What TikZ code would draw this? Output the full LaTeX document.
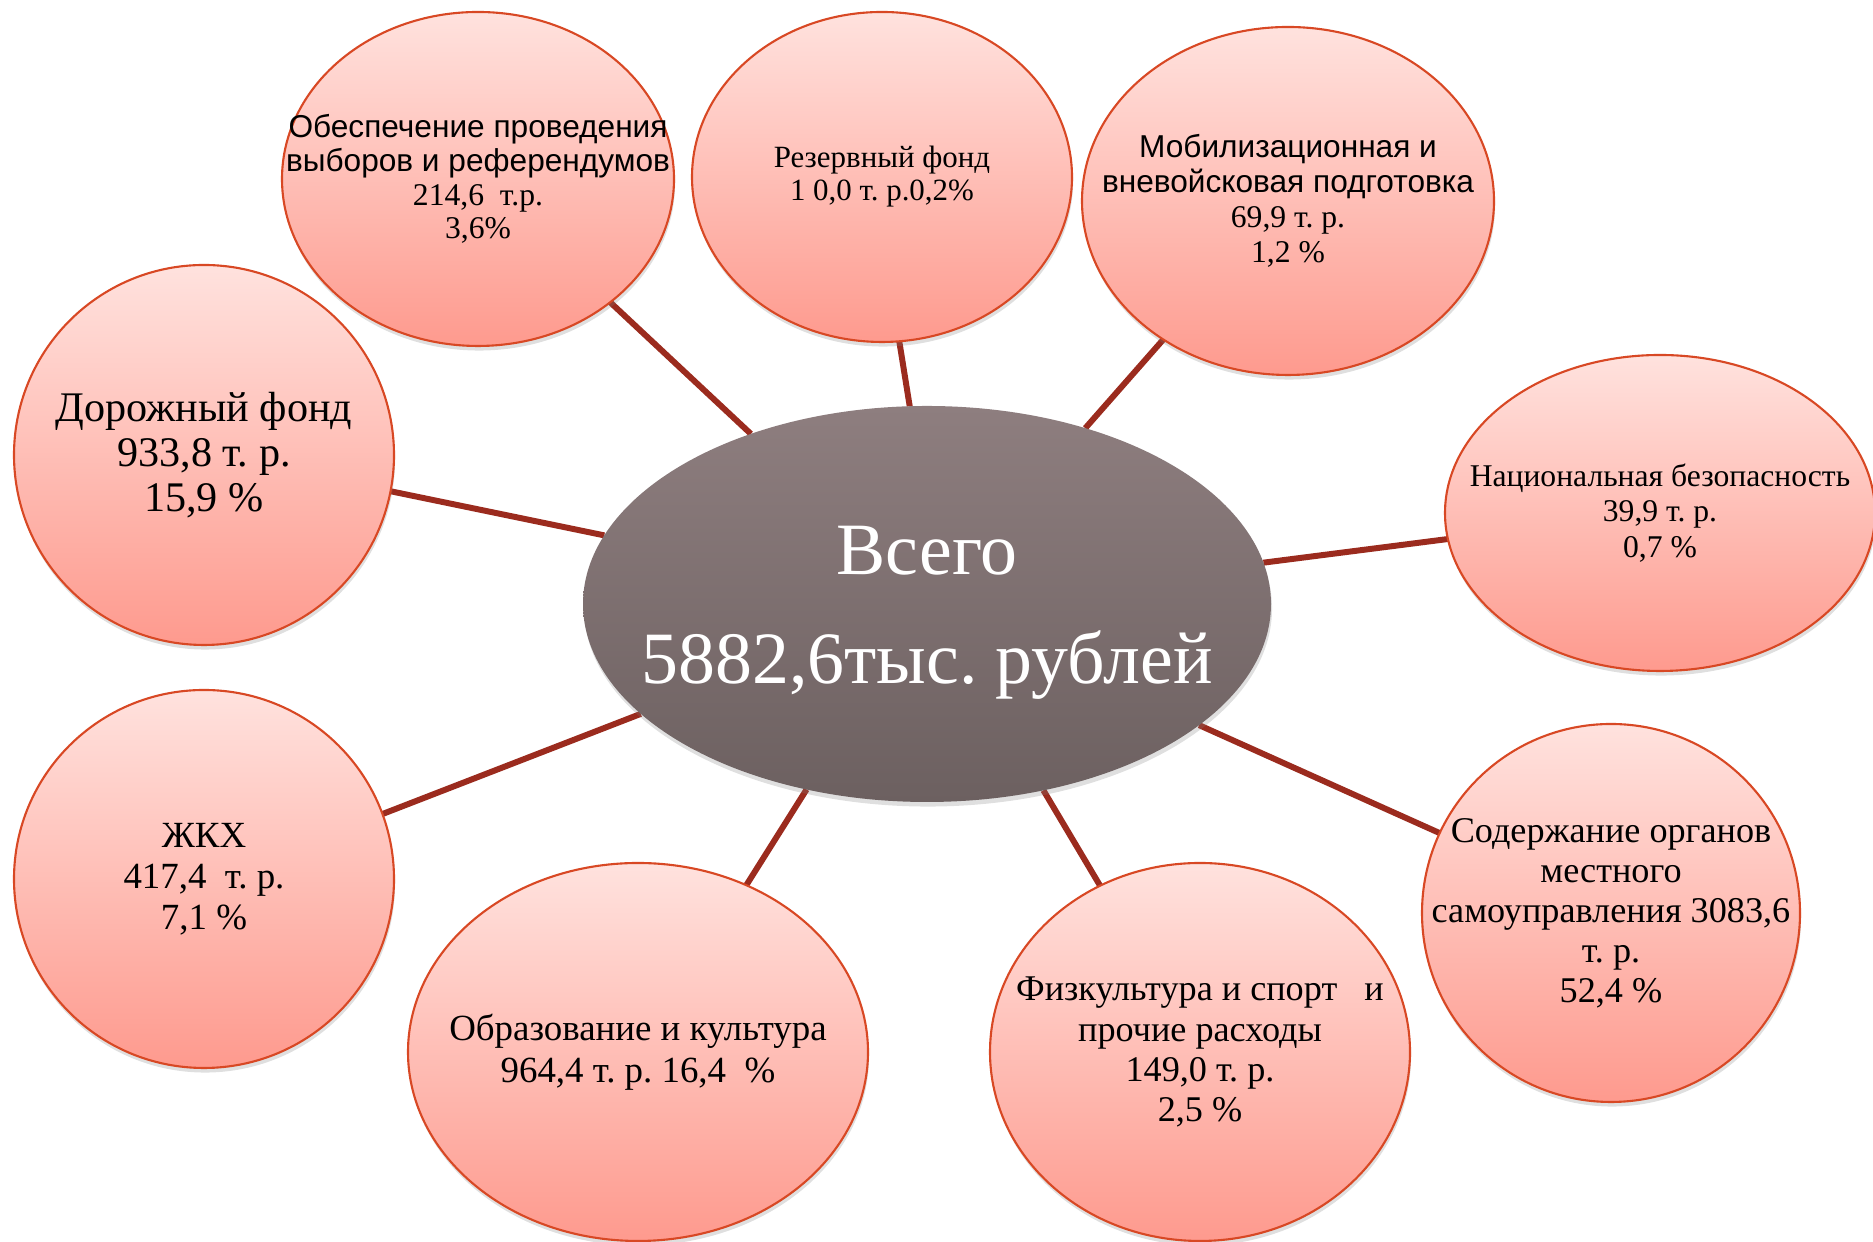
\documentclass[tikz,border=0pt]{standalone}
\usepackage{fontspec}
\setmainfont{Liberation Serif}
\newfontfamily\arialfont{Liberation Sans}
\usetikzlibrary{shapes.geometric}
\usetikzlibrary{shadows}
\usetikzlibrary{backgrounds}
\definecolor{bubtop}{RGB}{255,226,222}
\definecolor{bubbot}{RGB}{254,154,142}
\definecolor{bubline}{RGB}{216,72,36}
\definecolor{coretop}{RGB}{142,126,127}
\definecolor{corebot}{RGB}{108,96,96}
\definecolor{linkred}{RGB}{155,43,30}
\newcommand\fs[2]{\fontsize{#1}{#2}\selectfont}
\tikzstyle{bubble}=[ellipse,draw=bubline,line width=.6pt,top color=bubtop,bottom color=bubbot,
  inner sep=0pt,outer sep=0pt,drop shadow={shadow xshift=.3pt,shadow yshift=-1.3pt,opacity=.25}]
\tikzstyle{core}=[ellipse,top color=coretop,bottom color=corebot,inner sep=0pt,outer sep=0pt,
  drop shadow={shadow xshift=.3pt,shadow yshift=-1.3pt,opacity=.25}]
\tikzstyle{txt}=[align=center,inner sep=0pt]
\tikzstyle{link}=[line width=1.7pt,draw=linkred]
\frenchspacing

\begin{document}
\begin{tikzpicture}
	\useasboundingbox (0,0) rectangle (18.73,12.42);
	% centre
	\node[core,minimum width=6.88cm,minimum height=3.96cm] (total) at (9.27,6.38) {};
	\node[txt,text=white,font=\fs{21}{31}] (total-t) at ([yshift=-.09cm]total) {Всего\\5882,6тыс. рублей};
	% outer bubbles
	\node[bubble,minimum width=3.92cm,minimum height=3.34cm] (elect) at (4.78,10.63) {};
	\node[bubble,minimum width=3.80cm,minimum height=3.30cm] (reserve) at (8.82,10.65) {};
	\node[bubble,minimum width=4.12cm,minimum height=3.48cm] (mobil) at (12.88,10.41) {};
	\node[bubble,minimum width=4.30cm,minimum height=3.16cm] (secur) at (16.60,7.29) {};
	\node[bubble,minimum width=3.78cm,minimum height=3.78cm] (local) at (16.11,3.29) {};
	\node[bubble,minimum width=4.20cm,minimum height=3.78cm] (sport) at (12.00,1.90) {};
	\node[bubble,minimum width=4.60cm,minimum height=3.78cm] (educ) at (6.38,1.90) {};
	\node[bubble,minimum width=3.80cm,minimum height=3.78cm] (zhkh) at (2.04,3.63) {};
	\node[bubble,minimum width=3.80cm,minimum height=3.80cm] (road) at (2.04,7.87) {};
	\node[txt,font=\fs{9}{9.6}] (elect-t) at (elect)
	  {{\arialfont\fs{9}{10.2}Обеспечение проведения}\\{\arialfont\fs{9}{10.2}выборов и референдумов}\\214,6~ т.р.\\3,6\%};
	\node[txt,font=\fs{8.8}{9.4}] (reserve-t) at (reserve) {Резервный фонд\\1 0,0 т. р.0,2\%};
	\node[txt,font=\fs{9}{10}] (mobil-t) at (mobil)
	  {{\arialfont Мобилизационная и}\\{\arialfont вневойсковая подготовка}\\69,9 т. р.\\1,2 \%};
	\node[txt,font=\fs{9}{10}] (secur-t) at (secur) {Национальная безопасность\\39,9 т. р.\\0,7 \%};
	\node[txt,font=\fs{10.3}{11.4}] (local-t) at (local)
	  {Содержание органов\\местного\\самоуправления 3083,6\\т. р.\\52,4 \%};
	\node[txt,font=\fs{10.3}{11.4}] (sport-t) at (sport)
	  {Физкультура и спорт \ \ и\\прочие расходы\\149,0 т. р.\\2,5 \%};
	\node[txt,font=\fs{10.5}{12}] (educ-t) at (educ) {Образование и культура\\964,4 т. р. 16,4~ \%};
	\node[txt,font=\fs{10.5}{11.7}] (zhkh-t) at (zhkh) {ЖКХ\\417,4~ т. р.\\7,1 \%};
	\node[txt,font=\fs{12}{12.8}] (road-t) at (road) {Дорожный фонд\\933,8 т. р.\\15,9 \%};
	% links
	\begin{pgfonlayer}{background}
	\draw[link] (total.136.5) -- (elect.-43.2);
	\draw[link] (total.95.5) -- (reserve.-84.2);
	\draw[link] (total.48.1) -- (mobil.228.9);
	\draw[link] (total.7.2) -- (secur.187.6);
	\draw[link] (total.-24.3) -- (local.155.6);
	\draw[link] (total.-58.2) -- (sport.121.4);
	\draw[link] (total.237.3) -- (educ.57);
	\draw[link] (total.201) -- (zhkh.20.3);
	\draw[link] (total.168.1) -- (road.-11.8);
	\end{pgfonlayer}
\end{tikzpicture}
\end{document}
